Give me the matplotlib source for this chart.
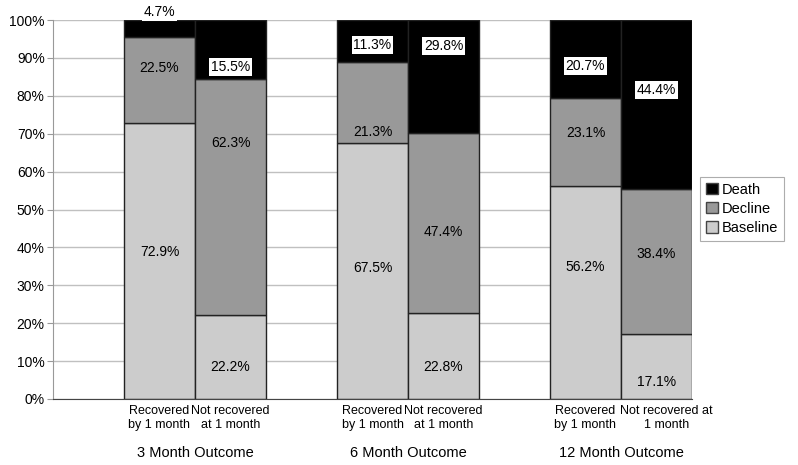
import matplotlib
matplotlib.use("Agg")
import matplotlib.pyplot as plt
import matplotlib.transforms as mtransforms
from matplotlib.patches import Patch

plt.rcParams["font.family"] = ["Liberation Sans", "DejaVu Sans"]

groups = ["3 Month Outcome", "6 Month Outcome", "12 Month Outcome"]
bar_labels = [
    "Recovered\nby 1 month", "Not recovered\nat 1 month",
    "Recovered\nby 1 month", "Not recovered\nat 1 month",
    "Recovered\nby 1 month", "Not recovered at\n1 month",
]
baseline = [72.9, 22.2, 67.5, 22.8, 56.2, 17.1]
decline = [22.5, 62.3, 21.3, 47.4, 23.1, 38.4]
death = [4.7, 15.5, 11.3, 29.8, 20.7, 44.4]

# where the value labels sit (percent), as placed in the original chart
baseline_label_y = [38.8, 8.4, 34.6, 8.4, 34.8, 4.5]
decline_label_y = [87.3, 67.5, 70.4, 44.1, 70.2, 38.3]
death_label_y = [102.1, 87.6, 93.4, 93.1, 87.9, 81.5]

colors = {"Baseline": "#cccccc", "Decline": "#999999", "Death": "#000000"}

fig = plt.figure(figsize=(7.98, 4.65), dpi=100)
ax = fig.add_axes([53 / 798, 1 - 399 / 465, (692 - 53) / 798, 379 / 465])

lefts = [1, 2, 4, 5, 7, 8]
centers = [x + 0.5 for x in lefts]
bottom2 = [b + d for b, d in zip(baseline, decline)]

ax.bar(centers, baseline, width=1, color=colors["Baseline"], edgecolor="#222222", linewidth=1, zorder=2)
ax.bar(centers, decline, width=1, bottom=baseline, color=colors["Decline"], edgecolor="#222222", linewidth=1, zorder=2)
ax.bar(centers, death, width=1, bottom=bottom2, color=colors["Death"], edgecolor="#222222", linewidth=1, zorder=2)

for i, x in enumerate(centers):
    ax.text(x, baseline_label_y[i], f"{baseline[i]:.1f}%", ha="center", va="center", fontsize=10, zorder=4)
    ax.text(x, decline_label_y[i], f"{decline[i]:.1f}%", ha="center", va="center", fontsize=10, zorder=4)
    ax.text(x, death_label_y[i], f"{death[i]:.1f}%", ha="center", va="center", fontsize=10, zorder=4,
            clip_on=False, bbox=dict(facecolor="white", edgecolor="none", pad=1.2))

ax.set_xlim(0, 9)
ax.set_ylim(0, 100)
ax.set_yticks(range(0, 101, 10))
ax.set_yticklabels([f"{v}%" for v in range(0, 101, 10)], fontsize=10)
ax.yaxis.grid(True, color="#c0c0c0", linewidth=1)
ax.set_axisbelow(True)
ax.tick_params(axis="y", length=4, color="#999999", pad=2)

ax.set_xticks(centers)
ax.set_xticklabels(bar_labels, fontsize=9, linespacing=1.25)
ax.tick_params(axis="x", length=0, pad=4)
# last label sits a little to the right in the original
last = ax.get_xticklabels()[-1]
last.set_transform(last.get_transform() + mtransforms.ScaledTranslation(10 / 100, 0, fig.dpi_scale_trans))

for sp in ["top", "right"]:
    ax.spines[sp].set_visible(False)
ax.spines["left"].set_color("#999999")
ax.spines["bottom"].set_color("#444444")

for g, name in enumerate(groups):
    gx = lefts[2 * g] + 1
    ax.text(gx, -14.2, name, ha="center", va="center", fontsize=10.5, clip_on=False)

handles = [Patch(facecolor=colors[k], edgecolor="#444444", label=k) for k in ["Death", "Decline", "Baseline"]]
leg = fig.legend(handles=handles, loc="upper left", bbox_to_anchor=(700 / 798, 1 - 177 / 465),
                 fontsize=10.5, frameon=True, fancybox=False, handlelength=0.8, handleheight=0.8,
                 handletextpad=0.3, labelspacing=0.35, borderpad=0.4, borderaxespad=0)
leg.get_frame().set_edgecolor("#999999")
leg.get_frame().set_linewidth(0.8)

fig.savefig("out.png", dpi=100)
